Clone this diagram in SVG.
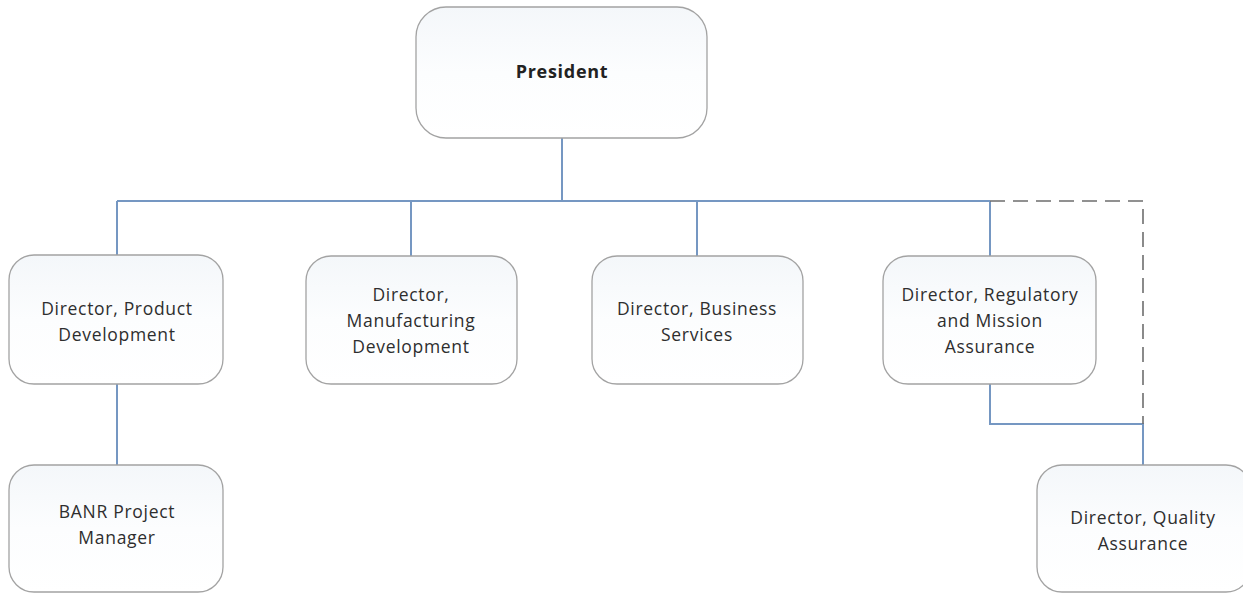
<svg xmlns="http://www.w3.org/2000/svg" width="1243" height="594" viewBox="0 0 1243 594">
  <defs>
    <linearGradient id="boxFill" x1="0" y1="0" x2="0" y2="1">
      <stop offset="0" stop-color="#f4f7fa"/>
      <stop offset="0.5" stop-color="#fcfdfe"/>
      <stop offset="1" stop-color="#ffffff"/>
    </linearGradient>
  </defs>
  <style>
    .box { fill: url(#boxFill); stroke: #a3a3a3; stroke-width: 1.3; }
    .label { font-family: "Open Sans", "Liberation Sans", sans-serif; font-size: 17.5px; fill: #2e2e2e; text-anchor: middle; letter-spacing: 0.7px; }
    .title { font-weight: bold; font-size: 18px; fill: #222222; letter-spacing: 0.7px; }
    .link { fill: none; stroke: #7597c2; stroke-width: 2; }
    .dotted { fill: none; stroke: #6e6e6e; stroke-width: 1.6; stroke-dasharray: 15 8; }
  </style>
  <rect width="1243" height="594" fill="#ffffff"/>

  <!-- reporting lines -->
  <g id="connectors">
    <path class="link" d="M562 138 V201"/>
    <path class="link" d="M117 201 H990"/>
    <path class="link" d="M117 201 V255"/>
    <path class="link" d="M411 201 V256"/>
    <path class="link" d="M697 201 V256"/>
    <path class="link" d="M990 201 V256"/>
    <path class="link" d="M117 384 V465"/>
    <path class="link" d="M990 384 V424 H1143 V465"/>
    <path class="dotted" d="M990 201 H1143 V424"/>
  </g>

  <g id="president">
    <rect class="box" x="416" y="7" width="291" height="131" rx="30"/>
    <text class="label title" x="562" y="78">President</text>
  </g>

  <g id="dir-product-development">
    <rect class="box" x="9" y="255" width="214" height="129" rx="25"/>
    <text class="label" x="117" y="315">Director, Product</text>
    <text class="label" x="117" y="341">Development</text>
  </g>

  <g id="dir-manufacturing-development">
    <rect class="box" x="306" y="256" width="211" height="128" rx="25"/>
    <text class="label" x="411" y="301">Director,</text>
    <text class="label" x="411" y="327">Manufacturing</text>
    <text class="label" x="411" y="353">Development</text>
  </g>

  <g id="dir-business-services">
    <rect class="box" x="592" y="256" width="211" height="128" rx="25"/>
    <text class="label" x="697" y="315">Director, Business</text>
    <text class="label" x="697" y="341">Services</text>
  </g>

  <g id="dir-regulatory-mission-assurance">
    <rect class="box" x="883" y="256" width="213" height="128" rx="25"/>
    <text class="label" x="990" y="301">Director, Regulatory</text>
    <text class="label" x="990" y="327">and Mission</text>
    <text class="label" x="990" y="353">Assurance</text>
  </g>

  <g id="banr-project-manager">
    <rect class="box" x="9" y="465" width="214" height="127" rx="25"/>
    <text class="label" x="117" y="518">BANR Project</text>
    <text class="label" x="117" y="544">Manager</text>
  </g>

  <g id="dir-quality-assurance">
    <rect class="box" x="1037" y="465" width="214" height="127" rx="25"/>
    <text class="label" x="1143" y="524">Director, Quality</text>
    <text class="label" x="1143" y="550">Assurance</text>
  </g>
</svg>
